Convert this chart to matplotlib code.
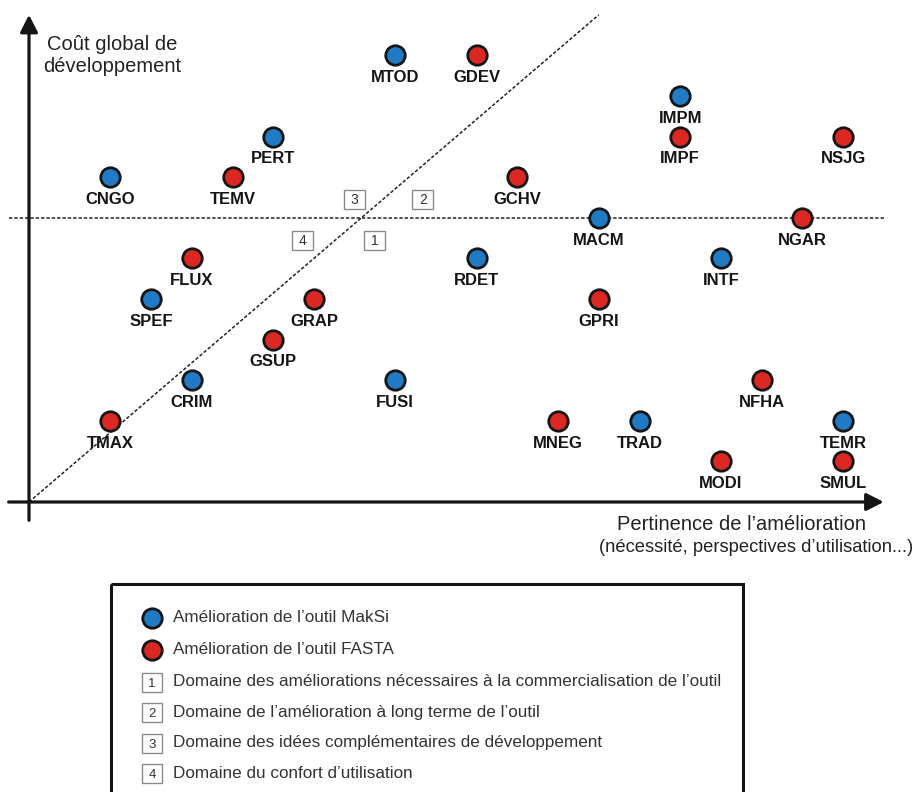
import matplotlib
matplotlib.use('Agg')
import matplotlib.pyplot as plt
from matplotlib.patches import Rectangle

plt.rcParams['font.family'] = ['Liberation Sans', 'DejaVu Sans']

# améliorations de MakSi : nom, pertinence (x), coût (y)
makSi_names = ['MTOD', 'IMPM', 'PERT', 'CNGO', 'MACM', 'RDET', 'INTF', 'SPEF', 'CRIM', 'FUSI', 'TRAD', 'TEMR']
makSi_x = [9, 16, 6, 2, 14, 11, 17, 3, 4, 9, 15, 20]
makSi_y = [11, 10, 9, 8, 7, 6, 6, 5, 3, 3, 2, 2]

# améliorations de FASTA
fasta_names = ['GDEV', 'IMPF', 'NSJG', 'TEMV', 'GCHV', 'NGAR', 'FLUX', 'GRAP', 'GPRI', 'GSUP', 'NFHA', 'TMAX', 'MNEG', 'MODI', 'SMUL']
fasta_x = [11, 16, 20, 5, 12, 19, 4, 7, 14, 6, 18, 2, 13, 17, 20]
fasta_y = [11, 9, 9, 8, 8, 7, 6, 5, 5, 4, 3, 2, 2, 1, 1]

# séparations des domaines
seuil_cout = 7
diag_x = [0, 14]
diag_y = [0, 12]

serie_labels = ["Amélioration de l\u2019outil MakSi", "Amélioration de l\u2019outil FASTA"]
domaine_labels = [
    "Domaine des améliorations nécessaires à la commercialisation de l\u2019outil",
    "Domaine de l\u2019amélioration à long terme de l\u2019outil",
    "Domaine des idées complémentaires de développement",
    "Domaine du confort d\u2019utilisation",
]

BLUE = '#1f7bc6'
RED = '#dc2820'
INK = '#151515'

fig = plt.figure(figsize=(9.17, 7.92), dpi=100)
ax = fig.add_axes([0, 0, 1, 1])
sx, sy = 40.7, 40.6  # pixels par unité
ax.set_xlim(-29 / sx, 888 / sx)
ax.set_ylim(-290 / sy, 502 / sy)
ax.axis('off')

# axes avec flèches
arrow = dict(arrowstyle='-|>,head_length=0.55,head_width=0.28', lw=2.3, color=INK,
             mutation_scale=19, shrinkA=0, shrinkB=0)
ax.annotate('', xy=(21.0, 0), xytext=(-0.5, 0), arrowprops=arrow)
ax.annotate('', xy=(0, 12.0), xytext=(0, -0.45), arrowprops=arrow)

# lignes pointillées
ax.plot([-0.5, 21.0], [seuil_cout, seuil_cout], color='#222', lw=1.1, ls=(0, (2.2, 1.3)))
ax.plot(diag_x, diag_y, color='#222', lw=1.1, ls=(0, (2.2, 1.3)))

# points
for xs, ys, names, col in [(makSi_x, makSi_y, makSi_names, BLUE), (fasta_x, fasta_y, fasta_names, RED)]:
    ax.plot(xs, ys, 'o', ms=14, mfc=col, mec=INK, mew=2, ls='none', zorder=5)
    for n, x, y in zip(names, xs, ys):
        ax.annotate(n, (x, y), xytext=(0, -16), textcoords='offset points',
                    ha='center', va='center', fontsize=12, fontweight='bold', color=INK)


def box(axis, cx, cy, w, h, num, fs=10):
    axis.add_patch(Rectangle((cx - w / 2, cy - h / 2), w, h, fc='white', ec='#8a8a8a', lw=1, zorder=6))
    axis.annotate(num, (cx, cy), xytext=(0, -0.36 * fs), textcoords='offset points',
                  ha='center', va='baseline', fontsize=fs, color='#333', zorder=7)


# numéros des domaines
bw, bh = 21 / sx, 19 / sy
box(ax, 8.0, 7.46, bw, bh, '3')
box(ax, 9.68, 7.46, bw, bh, '2')
box(ax, 6.71, 6.45, bw, bh, '4')
box(ax, 8.5, 6.45, bw, bh, '1')

# titres des axes
ax.text(83 / sx, 457 / sy, "Coût global de", ha='center', va='center', fontsize=14.5, color='#222')
ax.text(83 / sx, 436 / sy, "développement", ha='center', va='center', fontsize=14.5, color='#222')
ax.text(712 / sx, -23 / sy, "Pertinence de l\u2019amélioration", ha='center', va='center', fontsize=14.5, color='#222')
ax.text(727 / sx, -46 / sy, "(nécessité, perspectives d\u2019utilisation...)", ha='center', va='center',
        fontsize=13.2, color='#222')

# légende (coordonnées pixels)
lg = fig.add_axes([0, 0, 1, 1])
lg.set_xlim(0, 917)
lg.set_ylim(792, 0)
lg.axis('off')
lg.add_patch(Rectangle((111, 584), 632, 230, fc='none', ec=INK, lw=2.2))
rows = [618, 650, 682, 712, 743, 773]
for lab, col, yy in zip(serie_labels, [BLUE, RED], rows[:2]):
    lg.plot([152], [yy], 'o', ms=14, mfc=col, mec=INK, mew=2)
    lg.text(173, yy, lab, ha='left', va='center', fontsize=12.3, color='#333')
for i, (lab, yy) in enumerate(zip(domaine_labels, rows[2:])):
    box(lg, 152, yy, 20, 19, str(i + 1), fs=9.5)
    lg.text(173, yy, lab, ha='left', va='center', fontsize=12.3, color='#333')

fig.savefig('out.png', dpi=100)
